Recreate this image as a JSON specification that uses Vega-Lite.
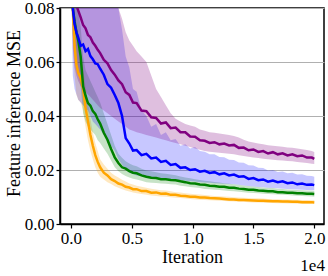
{
"$schema": "https://vega.github.io/schema/vega-lite/v6.json",
"width": 264, "height": 216,
"autosize": {"type": "none"},
"padding": {"left": 60, "top": 8, "right": 4, "bottom": 52},
"config": {
 "font": "Liberation Serif",
 "view": {"stroke": "black", "strokeWidth": 1.5},
 "axis": {"domainColor": "black", "domainWidth": 1.5, "tickColor": "black", "tickSize": 4, "tickWidth": 1.2, "labelColor": "black", "labelFontSize": 17, "labelFont": "Liberation Serif", "titleFont": "Liberation Serif", "titleFontSize": 18, "titleFontWeight": "normal", "titleColor": "black", "gridColor": "#b0b0b0", "gridWidth": 1},
 "axisX": {"grid": false, "labelPadding": 2, "titleY": 38, "titleBaseline": "alphabetic"},
 "axisY": {"grid": true, "labelPadding": 2, "titleX": -46, "titleY": 105, "titleAngle": 270, "titleAlign": "center", "titleBaseline": "middle"}
},
"title": {"text": "1e4", "orient": "bottom", "anchor": "end", "fontSize": 17, "fontWeight": "normal", "font": "Liberation Serif", "color": "black", "baseline": "top", "offset": -8},
"data": {"values": [
{"it":0,"om":0.130,"ol":0.110,"oh":0.150,"gm":0.130,"gl":0.115,"gh":0.145,"bm":0.130,"bl":0.100,"bh":0.160,"pm":0.140,"pl":0.110,"ph":0.170},
{"it":150,"om":0.080,"ol":0.068,"oh":0.092,"gm":0.080,"gl":0.070,"gh":0.090,"bm":0.080,"bl":0.055,"bh":0.110,"pm":0.095,"pl":0.065,"ph":0.125},
{"it":300,"om":0.066,"ol":0.055,"oh":0.078,"gm":0.075,"gl":0.064,"gh":0.086,"bm":0.074,"bl":0.050,"bh":0.105,"pm":0.086,"pl":0.058,"ph":0.115},
{"it":450,"om":0.059,"ol":0.048,"oh":0.070,"gm":0.071,"gl":0.060,"gh":0.082,"bm":0.071,"bl":0.048,"bh":0.100,"pm":0.081,"pl":0.055,"ph":0.110},
{"it":600,"om":0.056,"ol":0.046,"oh":0.066,"gm":0.068,"gl":0.057,"gh":0.079,"bm":0.069,"bl":0.046,"bh":0.098,"pm":0.079,"pl":0.053,"ph":0.106},
{"it":800,"om":0.054,"ol":0.045,"oh":0.063,"gm":0.062,"gl":0.051,"gh":0.073,"bm":0.066,"bl":0.045,"bh":0.096,"pm":0.0765,"pl":0.051,"ph":0.103},
{"it":1000,"om":0.050,"ol":0.042,"oh":0.058,"gm":0.051,"gl":0.041,"gh":0.062,"bm":0.0665,"bl":0.044,"bh":0.094,"pm":0.0737,"pl":0.050,"ph":0.100},
{"it":1200,"om":0.043,"ol":0.036,"oh":0.051,"gm":0.0475,"gl":0.038,"gh":0.057,"bm":0.0640,"bl":0.043,"bh":0.092,"pm":0.0725,"pl":0.049,"ph":0.098},
{"it":1400,"om":0.038,"ol":0.031,"oh":0.045,"gm":0.0448,"gl":0.036,"gh":0.055,"bm":0.0648,"bl":0.042,"bh":0.090,"pm":0.0700,"pl":0.048,"ph":0.096},
{"it":1600,"om":0.033,"ol":0.027,"oh":0.039,"gm":0.0438,"gl":0.035,"gh":0.053,"bm":0.0622,"bl":0.040,"bh":0.088,"pm":0.0692,"pl":0.047,"ph":0.094},
{"it":1800,"om":0.029,"ol":0.024,"oh":0.034,"gm":0.0418,"gl":0.034,"gh":0.051,"bm":0.0610,"bl":0.038,"bh":0.087,"pm":0.0672,"pl":0.046,"ph":0.092},
{"it":2000,"om":0.0255,"ol":0.021,"oh":0.030,"gm":0.0408,"gl":0.033,"gh":0.049,"bm":0.0595,"bl":0.037,"bh":0.086,"pm":0.0660,"pl":0.045,"ph":0.090},
{"it":2200,"om":0.0230,"ol":0.019,"oh":0.027,"gm":0.0388,"gl":0.031,"gh":0.047,"bm":0.0592,"bl":0.036,"bh":0.085,"pm":0.0645,"pl":0.044,"ph":0.089},
{"it":2400,"om":0.0210,"ol":0.0175,"oh":0.024,"gm":0.0372,"gl":0.030,"gh":0.045,"bm":0.0575,"bl":0.035,"bh":0.084,"pm":0.0633,"pl":0.043,"ph":0.088},
{"it":2700,"om":0.0190,"ol":0.0165,"oh":0.022,"gm":0.0338,"gl":0.028,"gh":0.041,"bm":0.0553,"bl":0.033,"bh":0.083,"pm":0.0608,"pl":0.042,"ph":0.087},
{"it":3000,"om":0.0180,"ol":0.0155,"oh":0.0205,"gm":0.0312,"gl":0.026,"gh":0.037,"bm":0.0518,"bl":0.031,"bh":0.082,"pm":0.0595,"pl":0.041,"ph":0.086},
{"it":3300,"om":0.0166,"ol":0.0148,"oh":0.019,"gm":0.0278,"gl":0.0235,"gh":0.033,"bm":0.0505,"bl":0.029,"bh":0.082,"pm":0.0570,"pl":0.040,"ph":0.085},
{"it":3600,"om":0.0159,"ol":0.014,"oh":0.018,"gm":0.0247,"gl":0.021,"gh":0.029,"bm":0.0478,"bl":0.027,"bh":0.081,"pm":0.0553,"pl":0.039,"ph":0.083},
{"it":3900,"om":0.0150,"ol":0.0134,"oh":0.0172,"gm":0.0226,"gl":0.0195,"gh":0.026,"bm":0.0448,"bl":0.024,"bh":0.080,"pm":0.0532,"pl":0.038,"ph":0.080},
{"it":4200,"om":0.0146,"ol":0.0129,"oh":0.0164,"gm":0.0210,"gl":0.0185,"gh":0.0245,"bm":0.0400,"bl":0.022,"bh":0.072,"pm":0.0518,"pl":0.037,"ph":0.076},
{"it":4500,"om":0.0138,"ol":0.0124,"oh":0.0157,"gm":0.0205,"gl":0.0178,"gh":0.0232,"bm":0.0318,"bl":0.020,"bh":0.062,"pm":0.0488,"pl":0.036,"ph":0.071},
{"it":4800,"om":0.0135,"ol":0.012,"oh":0.015,"gm":0.0196,"gl":0.0172,"gh":0.0224,"bm":0.0298,"bl":0.019,"bh":0.058,"pm":0.0478,"pl":0.035,"ph":0.068},
{"it":5100,"om":0.0129,"ol":0.0117,"oh":0.0146,"gm":0.0190,"gl":0.0168,"gh":0.0218,"bm":0.0272,"bl":0.0185,"bh":0.050,"pm":0.0450,"pl":0.0345,"ph":0.066},
{"it":5400,"om":0.0129,"ol":0.0114,"oh":0.0142,"gm":0.0188,"gl":0.0165,"gh":0.0214,"bm":0.0274,"bl":0.018,"bh":0.049,"pm":0.0448,"pl":0.034,"ph":0.064},
{"it":5800,"om":0.0122,"ol":0.0111,"oh":0.0138,"gm":0.0180,"gl":0.016,"gh":0.0205,"bm":0.0255,"bl":0.0178,"bh":0.042,"pm":0.0420,"pl":0.0335,"ph":0.062},
{"it":6200,"om":0.0122,"ol":0.0108,"oh":0.0134,"gm":0.0175,"gl":0.0155,"gh":0.0198,"bm":0.0260,"bl":0.0176,"bh":0.040,"pm":0.0418,"pl":0.033,"ph":0.060},
{"it":6600,"om":0.0116,"ol":0.0106,"oh":0.0131,"gm":0.0171,"gl":0.0153,"gh":0.0195,"bm":0.0243,"bl":0.0174,"bh":0.036,"pm":0.0395,"pl":0.0325,"ph":0.055},
{"it":7000,"om":0.0117,"ol":0.0104,"oh":0.0128,"gm":0.0170,"gl":0.0152,"gh":0.0192,"bm":0.0246,"bl":0.0172,"bh":0.037,"pm":0.0393,"pl":0.032,"ph":0.050},
{"it":7400,"om":0.0112,"ol":0.0102,"oh":0.0125,"gm":0.0166,"gl":0.015,"gh":0.0188,"bm":0.0230,"bl":0.017,"bh":0.033,"pm":0.0372,"pl":0.0315,"ph":0.047},
{"it":7800,"om":0.0113,"ol":0.0101,"oh":0.0124,"gm":0.0166,"gl":0.0149,"gh":0.0186,"bm":0.0234,"bl":0.0168,"bh":0.034,"pm":0.0376,"pl":0.031,"ph":0.044},
{"it":8200,"om":0.0108,"ol":0.0099,"oh":0.0121,"gm":0.0163,"gl":0.0147,"gh":0.0183,"bm":0.0219,"bl":0.0166,"bh":0.031,"pm":0.0355,"pl":0.0305,"ph":0.041},
{"it":8600,"om":0.0108,"ol":0.0097,"oh":0.0118,"gm":0.0162,"gl":0.0146,"gh":0.0181,"bm":0.0222,"bl":0.0164,"bh":0.0315,"pm":0.0357,"pl":0.030,"ph":0.039},
{"it":9000,"om":0.0105,"ol":0.0096,"oh":0.0117,"gm":0.0158,"gl":0.0142,"gh":0.0176,"bm":0.0208,"bl":0.0162,"bh":0.029,"pm":0.0340,"pl":0.0295,"ph":0.038},
{"it":9400,"om":0.0104,"ol":0.0094,"oh":0.0114,"gm":0.0155,"gl":0.014,"gh":0.0172,"bm":0.0210,"bl":0.016,"bh":0.0295,"pm":0.0340,"pl":0.029,"ph":0.037},
{"it":9800,"om":0.0101,"ol":0.0093,"oh":0.0112,"gm":0.0151,"gl":0.0137,"gh":0.0169,"bm":0.0200,"bl":0.0158,"bh":0.028,"pm":0.0324,"pl":0.0285,"ph":0.0365},
{"it":10200,"om":0.0101,"ol":0.0091,"oh":0.011,"gm":0.0150,"gl":0.0135,"gh":0.0166,"bm":0.0203,"bl":0.0157,"bh":0.0285,"pm":0.0323,"pl":0.028,"ph":0.036},
{"it":10600,"om":0.0098,"ol":0.009,"oh":0.0109,"gm":0.0146,"gl":0.0133,"gh":0.0163,"bm":0.0194,"bl":0.0155,"bh":0.027,"pm":0.0310,"pl":0.0275,"ph":0.035},
{"it":11000,"om":0.0098,"ol":0.0089,"oh":0.0107,"gm":0.0145,"gl":0.013,"gh":0.016,"bm":0.0197,"bl":0.0154,"bh":0.0268,"pm":0.0308,"pl":0.027,"ph":0.0345},
{"it":11400,"om":0.0096,"ol":0.0088,"oh":0.0106,"gm":0.0142,"gl":0.0129,"gh":0.0158,"bm":0.0189,"bl":0.0153,"bh":0.0258,"pm":0.0300,"pl":0.0268,"ph":0.034},
{"it":11800,"om":0.0095,"ol":0.0087,"oh":0.0104,"gm":0.0141,"gl":0.0127,"gh":0.0156,"bm":0.0192,"bl":0.0151,"bh":0.0258,"pm":0.0303,"pl":0.0266,"ph":0.0338},
{"it":12200,"om":0.0094,"ol":0.0086,"oh":0.0103,"gm":0.0138,"gl":0.0126,"gh":0.0154,"bm":0.0184,"bl":0.015,"bh":0.0248,"pm":0.0295,"pl":0.0264,"ph":0.0335},
{"it":12600,"om":0.0093,"ol":0.0085,"oh":0.0102,"gm":0.0138,"gl":0.0124,"gh":0.0151,"bm":0.0188,"bl":0.0149,"bh":0.0247,"pm":0.0298,"pl":0.0262,"ph":0.0332},
{"it":13000,"om":0.0091,"ol":0.0084,"oh":0.0101,"gm":0.0134,"gl":0.0122,"gh":0.0149,"bm":0.0180,"bl":0.0148,"bh":0.0238,"pm":0.0291,"pl":0.026,"ph":0.033},
{"it":13400,"om":0.0091,"ol":0.0083,"oh":0.0099,"gm":0.0134,"gl":0.0121,"gh":0.0147,"bm":0.0183,"bl":0.0147,"bh":0.0237,"pm":0.0293,"pl":0.0258,"ph":0.0326},
{"it":13800,"om":0.0089,"ol":0.0082,"oh":0.0098,"gm":0.0131,"gl":0.0119,"gh":0.0145,"bm":0.0175,"bl":0.0145,"bh":0.0228,"pm":0.0282,"pl":0.0255,"ph":0.032},
{"it":14200,"om":0.0089,"ol":0.0082,"oh":0.0097,"gm":0.0130,"gl":0.0118,"gh":0.0143,"bm":0.0177,"bl":0.0143,"bh":0.0227,"pm":0.0283,"pl":0.0252,"ph":0.0312},
{"it":14600,"om":0.0088,"ol":0.0081,"oh":0.0096,"gm":0.0127,"gl":0.0116,"gh":0.0141,"bm":0.0167,"bl":0.0141,"bh":0.0218,"pm":0.0273,"pl":0.0249,"ph":0.0306},
{"it":15000,"om":0.0087,"ol":0.008,"oh":0.0095,"gm":0.0127,"gl":0.0115,"gh":0.0139,"bm":0.0170,"bl":0.0139,"bh":0.0217,"pm":0.0276,"pl":0.0246,"ph":0.0302},
{"it":15400,"om":0.0086,"ol":0.008,"oh":0.0095,"gm":0.0124,"gl":0.0114,"gh":0.0137,"bm":0.0162,"bl":0.0137,"bh":0.0208,"pm":0.0267,"pl":0.0244,"ph":0.0298},
{"it":15800,"om":0.0086,"ol":0.0079,"oh":0.0094,"gm":0.0123,"gl":0.0112,"gh":0.0135,"bm":0.0165,"bl":0.0136,"bh":0.0207,"pm":0.0270,"pl":0.0242,"ph":0.0295},
{"it":16200,"om":0.0085,"ol":0.0078,"oh":0.0093,"gm":0.0121,"gl":0.0111,"gh":0.0134,"bm":0.0157,"bl":0.0134,"bh":0.0198,"pm":0.0261,"pl":0.024,"ph":0.0292},
{"it":16600,"om":0.0084,"ol":0.0078,"oh":0.0092,"gm":0.0121,"gl":0.011,"gh":0.0133,"bm":0.0161,"bl":0.0133,"bh":0.02,"pm":0.0266,"pl":0.0238,"ph":0.029},
{"it":17000,"om":0.0084,"ol":0.0077,"oh":0.0092,"gm":0.0118,"gl":0.0109,"gh":0.0131,"bm":0.0155,"bl":0.0132,"bh":0.0193,"pm":0.0258,"pl":0.0236,"ph":0.0288},
{"it":17400,"om":0.0083,"ol":0.0077,"oh":0.0091,"gm":0.0118,"gl":0.0108,"gh":0.013,"bm":0.0158,"bl":0.0131,"bh":0.0194,"pm":0.0262,"pl":0.0235,"ph":0.0286},
{"it":17800,"om":0.0083,"ol":0.0076,"oh":0.0091,"gm":0.0116,"gl":0.0107,"gh":0.0128,"bm":0.0151,"bl":0.013,"bh":0.0188,"pm":0.0254,"pl":0.0233,"ph":0.0283},
{"it":18200,"om":0.0082,"ol":0.0076,"oh":0.009,"gm":0.0116,"gl":0.0106,"gh":0.0127,"bm":0.0154,"bl":0.0129,"bh":0.019,"pm":0.0258,"pl":0.0232,"ph":0.0282},
{"it":18600,"om":0.0082,"ol":0.0075,"oh":0.009,"gm":0.0114,"gl":0.0105,"gh":0.0126,"bm":0.0147,"bl":0.0128,"bh":0.0183,"pm":0.0251,"pl":0.023,"ph":0.028},
{"it":19000,"om":0.0081,"ol":0.0075,"oh":0.0089,"gm":0.0114,"gl":0.0104,"gh":0.0125,"bm":0.0150,"bl":0.0127,"bh":0.0184,"pm":0.0254,"pl":0.0228,"ph":0.0277},
{"it":19400,"om":0.0081,"ol":0.0074,"oh":0.0089,"gm":0.0112,"gl":0.0103,"gh":0.0124,"bm":0.0145,"bl":0.0126,"bh":0.0179,"pm":0.0246,"pl":0.0226,"ph":0.0274},
{"it":19800,"om":0.0081,"ol":0.0074,"oh":0.0088,"gm":0.0112,"gl":0.0102,"gh":0.0123,"bm":0.0146,"bl":0.0125,"bh":0.0178,"pm":0.0246,"pl":0.0223,"ph":0.027},
{"it":20000,"om":0.0080,"ol":0.0074,"oh":0.0088,"gm":0.0111,"gl":0.0101,"gh":0.0122,"bm":0.0144,"bl":0.0125,"bh":0.0175,"pm":0.0241,"pl":0.0222,"ph":0.0267}
]},
"encoding": {
 "x": {"field": "it", "type": "quantitative", "title": "Iteration", "scale": {"domain": [-900, 20800], "nice": false, "zero": false}, "axis": {"values": [0, 5000, 10000, 15000, 20000], "labelExpr": "format(datum.value/10000, '.1f')"}}
},
"layer": [
 {"mark": {"type": "area", "color": "#ffa500", "opacity": 0.25, "clip": true}, "encoding": {"y": {"field": "ol", "type": "quantitative", "title": "Feature inference MSE", "scale": {"domain": [0, 0.08], "nice": false}, "axis": {"values": [0, 0.02, 0.04, 0.06, 0.08], "format": ".2f"}}, "y2": {"field": "oh"}}},
 {"mark": {"type": "area", "color": "#008000", "opacity": 0.22, "clip": true}, "encoding": {"y": {"field": "gl", "type": "quantitative", "title": "Feature inference MSE"}, "y2": {"field": "gh"}}},
 {"mark": {"type": "area", "color": "#0000ff", "opacity": 0.22, "clip": true}, "encoding": {"y": {"field": "bl", "type": "quantitative", "title": "Feature inference MSE"}, "y2": {"field": "bh"}}},
 {"mark": {"type": "area", "color": "#800080", "opacity": 0.25, "clip": true}, "encoding": {"y": {"field": "pl", "type": "quantitative", "title": "Feature inference MSE"}, "y2": {"field": "ph"}}},
 {"mark": {"type": "line", "color": "#ffa500", "strokeWidth": 2.5, "clip": true}, "encoding": {"y": {"field": "om", "type": "quantitative", "title": "Feature inference MSE"}}},
 {"mark": {"type": "line", "color": "#008000", "strokeWidth": 2.5, "clip": true}, "encoding": {"y": {"field": "gm", "type": "quantitative", "title": "Feature inference MSE"}}},
 {"mark": {"type": "line", "color": "#0000ff", "strokeWidth": 2.5, "clip": true}, "encoding": {"y": {"field": "bm", "type": "quantitative", "title": "Feature inference MSE"}}},
 {"mark": {"type": "line", "color": "#800080", "strokeWidth": 2.5, "clip": true}, "encoding": {"y": {"field": "pm", "type": "quantitative", "title": "Feature inference MSE"}}}
]
}
